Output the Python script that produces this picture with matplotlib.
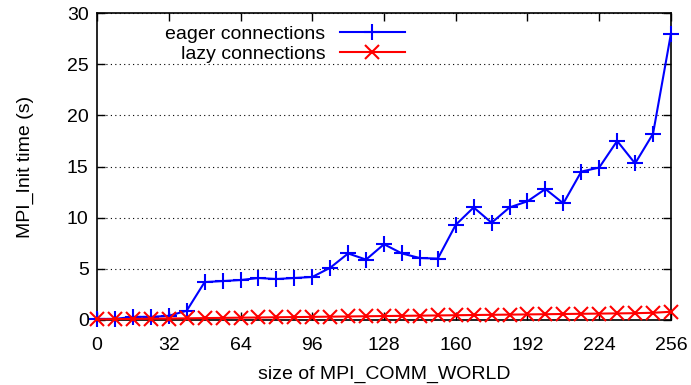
import numpy as np
import matplotlib.pyplot as plt

plt.rcParams['font.family'] = ['Liberation Sans', 'DejaVu Sans']

procs = [0, 8, 16, 24, 32, 40, 48, 56, 64, 72, 80, 88, 96, 104, 112, 120, 128,
         136, 144, 152, 160, 168, 176, 184, 192, 200, 208, 216, 224, 232, 240, 248, 256]
eager = [0.1, 0.1, 0.3, 0.3, 0.4, 0.9, 3.7, 3.8, 3.9, 4.1, 4.0, 4.1, 4.2, 5.1, 6.5, 5.9, 7.4,
         6.5, 6.05, 6.0, 9.3, 11.0, 9.5, 11.0, 11.6, 12.8, 11.4, 14.5, 14.9, 17.5, 15.3, 18.2, 28.0]
lazy = [0.05, 0.08, 0.1, 0.12, 0.14, 0.16, 0.18, 0.2, 0.22, 0.24, 0.26, 0.28, 0.3, 0.32, 0.34, 0.36, 0.38,
        0.4, 0.42, 0.44, 0.46, 0.48, 0.5, 0.52, 0.54, 0.56, 0.58, 0.6, 0.62, 0.64, 0.66, 0.7, 0.8]

fs = 14

fig = plt.figure(figsize=(6.91, 3.85), dpi=100)
ax = fig.add_axes([0.1404, 0.169, 0.8306, 0.797])

ax.plot(procs, eager, color='#0000ff', marker='+', markersize=11, markeredgewidth=1.5,
        linewidth=1.5, label='eager connections', clip_on=False, zorder=3)
ax.plot(procs, lazy, color='#ff0000', marker='x', markersize=10, markeredgewidth=1.5,
        linewidth=1.5, label='lazy connections', clip_on=False, zorder=4)

ax.set_xlim(0, 256)
ax.set_ylim(0, 30)
ax.set_xticks(np.arange(0, 257, 32))
ax.set_yticks(np.arange(0, 31, 5))
ax.tick_params(direction='in', length=6, width=1, top=True, right=True, labelsize=fs)
ax.tick_params(axis='x', pad=12)
ax.tick_params(axis='y', pad=6)
ax.yaxis.grid(True, linestyle=(0, (1, 3)), color='black', linewidth=0.8)
for s in ax.spines.values():
    s.set_linewidth(1.2)

ax.set_xlabel('size of MPI_COMM_WORLD', fontsize=fs, labelpad=9)
ax.set_ylabel('MPI_Init time (s)', fontsize=fs, labelpad=24)

leg = ax.legend(loc='upper right', bbox_to_anchor=(0.55, 0.985), frameon=False, markerfirst=False,
                fontsize=fs, handlelength=3.35, handletextpad=0.75, labelspacing=0.1,
                borderaxespad=0.0, borderpad=0.4)
for t in leg.get_texts():
    t.set_ha('right')

fig.savefig('out.png', dpi=100)
